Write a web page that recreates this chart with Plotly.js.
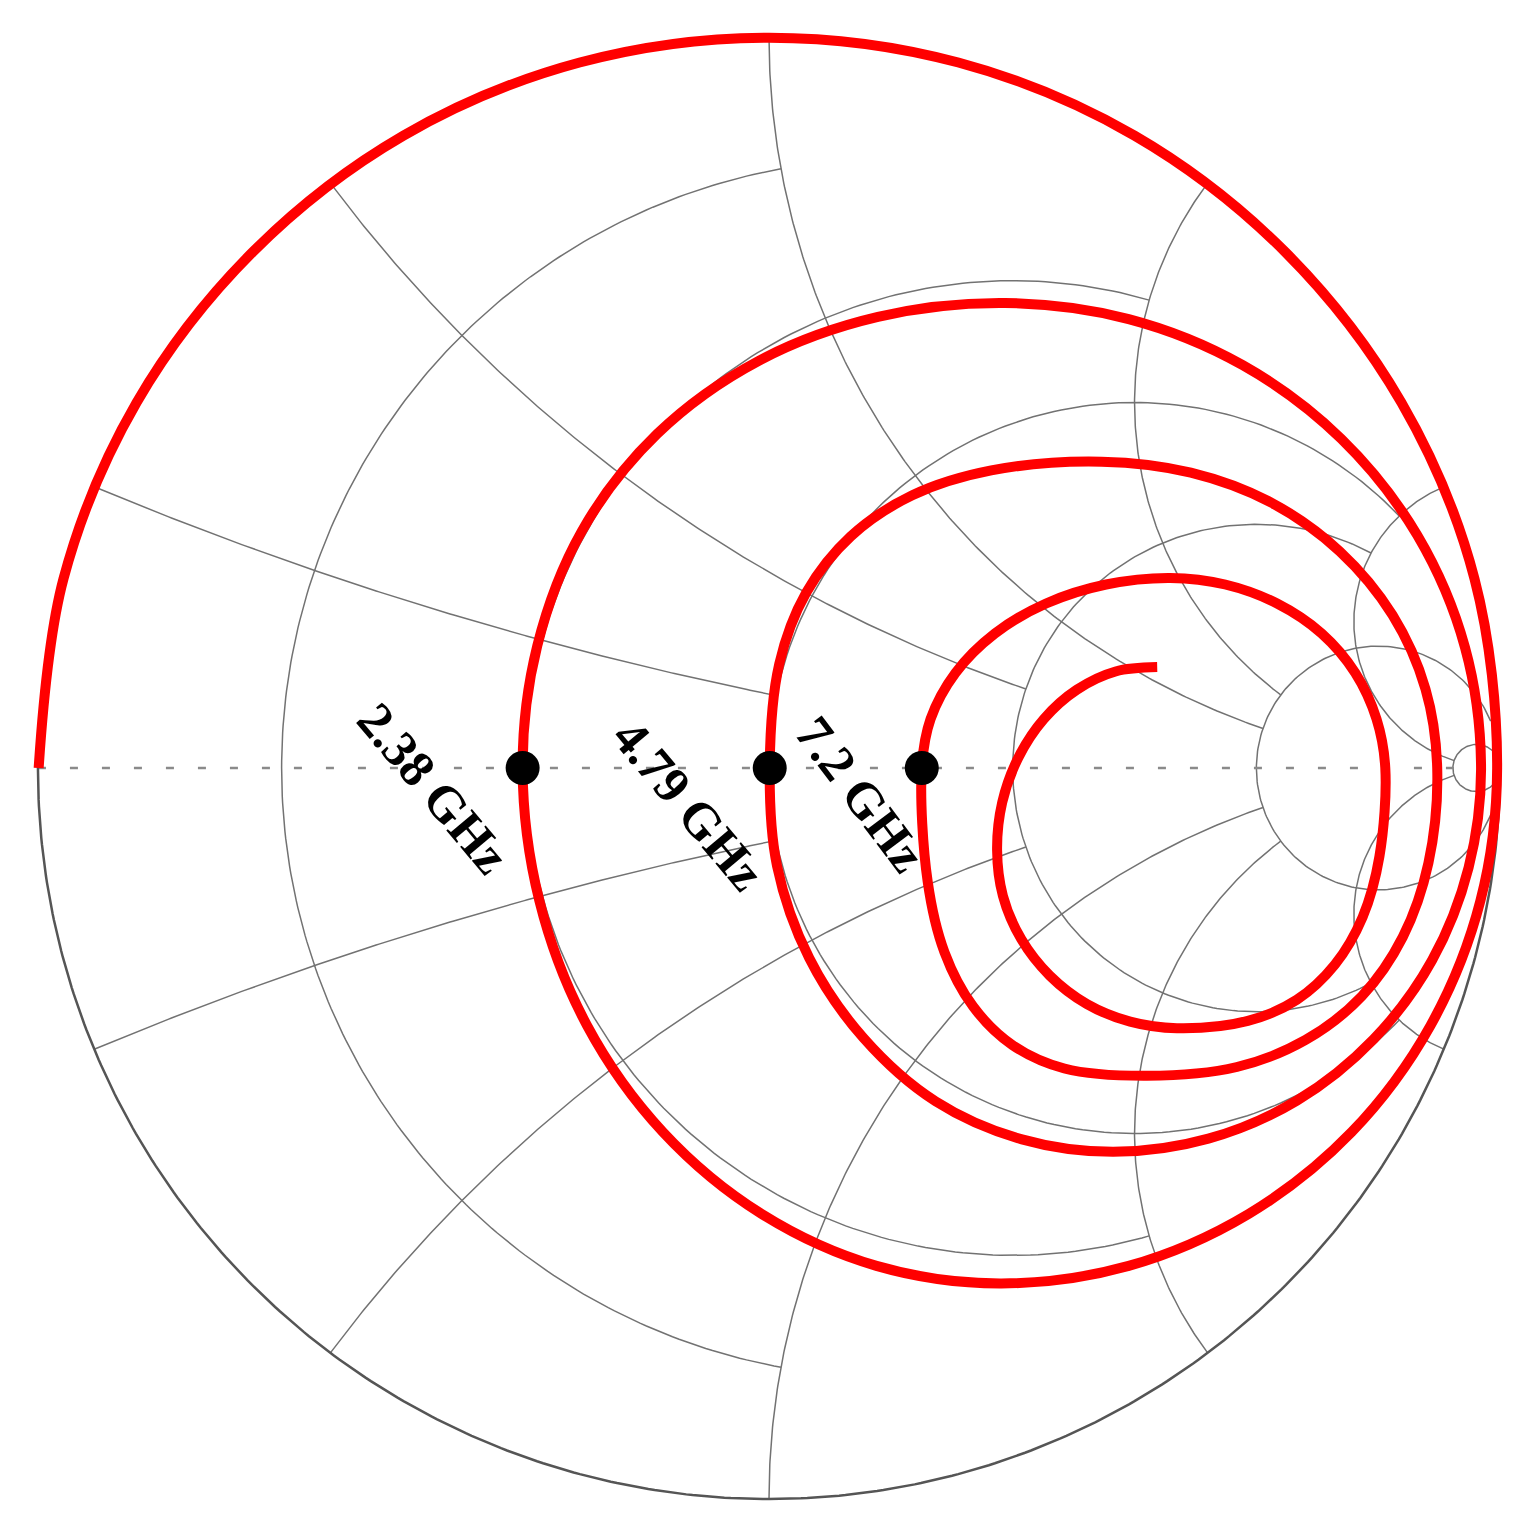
<!DOCTYPE html>
<html><head><meta charset="utf-8">
<script src="https://cdn.plot.ly/plotly-3.0.1.min.js"></script>
<style>html,body{margin:0;padding:0;background:#fff;overflow:hidden}</style>
</head><body><div id="chart" style="width:1530px;height:1528px"></div>
<script>
const gammaRe = [
  -0.999,-0.965,-0.865,-0.706,-0.500,-0.259,0.000,0.259,0.500,0.706,0.865,0.965,0.996,
  0.973,0.905,0.797,0.656,0.492,0.316,0.147,-0.010,-0.145,-0.249,-0.314,-0.337,
  -0.317,-0.256,-0.153,-0.014,0.149,0.323,0.492,0.648,0.783,0.887,0.952,0.974,
  0.957,0.907,0.827,0.722,0.601,0.471,0.346,0.228,0.129,0.055,0.011,0.001,
  0.014,0.051,0.112,0.196,0.304,0.455,0.577,0.687,0.781,0.853,0.898,0.914,
  0.902,0.867,0.811,0.734,0.640,0.517,0.404,0.333,0.279,0.240,0.217,0.209,
  0.221,0.255,0.309,0.379,0.461,0.549,0.624,0.695,0.756,0.802,0.831,0.843,
  0.835,0.812,0.774,0.722,0.655,0.558,0.494,0.435,0.384,0.345,0.320,0.312,0.319,0.341,0.376,0.421,0.474,0.531
];
const gammaIm = [
  0.000,0.259,0.500,0.706,0.865,0.965,0.999,0.965,0.865,0.706,0.500,0.259,0.000,
  -0.182,-0.352,-0.498,-0.610,-0.681,-0.705,-0.681,-0.610,-0.498,-0.352,-0.182,0.000,
  0.167,0.324,0.457,0.557,0.617,0.636,0.614,0.551,0.450,0.318,0.165,0.000,
  -0.136,-0.263,-0.371,-0.455,-0.507,-0.525,-0.508,-0.456,-0.369,-0.260,-0.134,0.000,
  0.142,0.240,0.317,0.373,0.407,0.419,0.404,0.363,0.296,0.209,0.108,0.000,
  -0.130,-0.231,-0.312,-0.372,-0.409,-0.421,-0.411,-0.379,-0.326,-0.252,-0.155,0.000,
  0.067,0.130,0.184,0.225,0.251,0.260,0.251,0.225,0.184,0.130,0.067,0.000,
  -0.121,-0.204,-0.269,-0.317,-0.346,-0.356,-0.347,-0.323,-0.284,-0.234,-0.175,-0.112,-0.047,0.014,0.067,0.107,0.132,0.138
];
// Marked frequencies (where the trace crosses the real axis)
const markerGammaRe = [-0.337, 0.001, 0.209];
const markerGammaIm = [0, 0, 0];
const markerLabels = ['2.38 GHz', '4.79 GHz', '7.2 GHz'];
// Smith grid: constant-resistance circles and how far (|x|) each one is drawn
const resistanceValues = [0.2, 0.5, 1, 2, 5, 30];
const resistanceLimits = [1, 2, 5, 5, 30, Infinity];
// constant-reactance arcs (±x) and how far (r) each one is drawn
const reactanceValues = [0.2, 0.5, 1, 2, 5];
const reactanceLimits = [1, 2, 5, 5, 30];

// Γ = (z - 1) / (z + 1) for z = r + jx
function gammaOf(r, x) {
  if (!isFinite(r)) return [1, 0];
  const den = (r + 1) * (r + 1) + x * x;
  return [(r * r + x * x - 1) / den, 2 * x / den];
}
const SEG = 240;
const gridX = [], gridY = [];
resistanceValues.forEach((r, i) => {
  const cx = r / (1 + r), rad = 1 / (1 + r);
  const lim = resistanceLimits[i];
  let t1 = 0;
  if (isFinite(lim)) { const p = gammaOf(r, lim); t1 = Math.atan2(p[1], p[0] - cx); }
  const t2 = 2 * Math.PI - t1;
  for (let k = 0; k <= SEG; k++) {
    const t = t1 + (t2 - t1) * k / SEG;
    gridX.push(cx + rad * Math.cos(t)); gridY.push(rad * Math.sin(t));
  }
  gridX.push(null); gridY.push(null);
});
reactanceValues.forEach((x, i) => {
  [1, -1].forEach(sgn => {
    const cy = 1 / x, rad = 1 / x;
    const p0 = gammaOf(0, x), p1 = gammaOf(reactanceLimits[i], x);
    let a0 = Math.atan2(p0[1] - cy, p0[0] - 1), a1 = Math.atan2(p1[1] - cy, p1[0] - 1);
    if (a0 < 0) a0 += 2 * Math.PI;
    if (a1 < 0) a1 += 2 * Math.PI;
    for (let k = 0; k <= SEG; k++) {
      const a = a0 + (a1 - a0) * k / SEG;
      gridX.push(1 + rad * Math.cos(a)); gridY.push(sgn * (cy + rad * Math.sin(a)));
    }
    gridX.push(null); gridY.push(null);
  });
});
const rimX = [], rimY = [];
for (let k = 0; k <= 720; k++) { const a = 2 * Math.PI * k / 720; rimX.push(Math.cos(a)); rimY.push(Math.sin(a)); }

const traces = [
  {x: gridX, y: gridY, mode: 'lines', line: {color: '#727272', width: 1.5}, hoverinfo: 'skip'},
  {x: [-1, 1], y: [0, 0], mode: 'lines', line: {color: '#8a8a8a', width: 2.5, dash: '8px,24px'}, hoverinfo: 'skip'},
  {x: rimX, y: rimY, mode: 'lines', line: {color: '#555555', width: 2.5}, hoverinfo: 'skip'},
  {x: gammaRe, y: gammaIm, mode: 'lines', line: {color: '#ff0000', width: 10, shape: 'spline', smoothing: 1}},
  {x: markerGammaRe, y: markerGammaIm, mode: 'markers', text: markerLabels, marker: {color: '#000000', size: 34}, cliponaxis: false}
];

const labelFont = {family: 'Liberation Serif, Times New Roman, serif', size: 51, color: '#000', weight: 'bold'};
const labelPos = [[-0.4600, -0.0280], [-0.1100, -0.0500], [0.1245, -0.0360]];
const labelAngle = [50, 50, 53];

const layout = {
  width: 1530, height: 1528,
  margin: {l: 0, r: 0, t: 0, b: 0},
  paper_bgcolor: '#ffffff', plot_bgcolor: 'rgba(0,0,0,0)',
  showlegend: false,
  xaxis: {range: [-1.03, 1.03], domain: [16 / 1530, 1522 / 1530], visible: false, fixedrange: true},
  yaxis: {range: [-1.03, 1.03], domain: [7 / 1528, 1513 / 1528], visible: false, fixedrange: true},
  annotations: markerLabels.map((t, i) => ({
    text: t, xref: 'x', yref: 'y', x: labelPos[i][0], y: labelPos[i][1],
    xanchor: 'center', yanchor: 'middle', showarrow: false, textangle: labelAngle[i], font: labelFont
  }))
};

Plotly.newPlot('chart', traces, layout, {displayModeBar: false, staticPlot: true});
</script></body></html>
